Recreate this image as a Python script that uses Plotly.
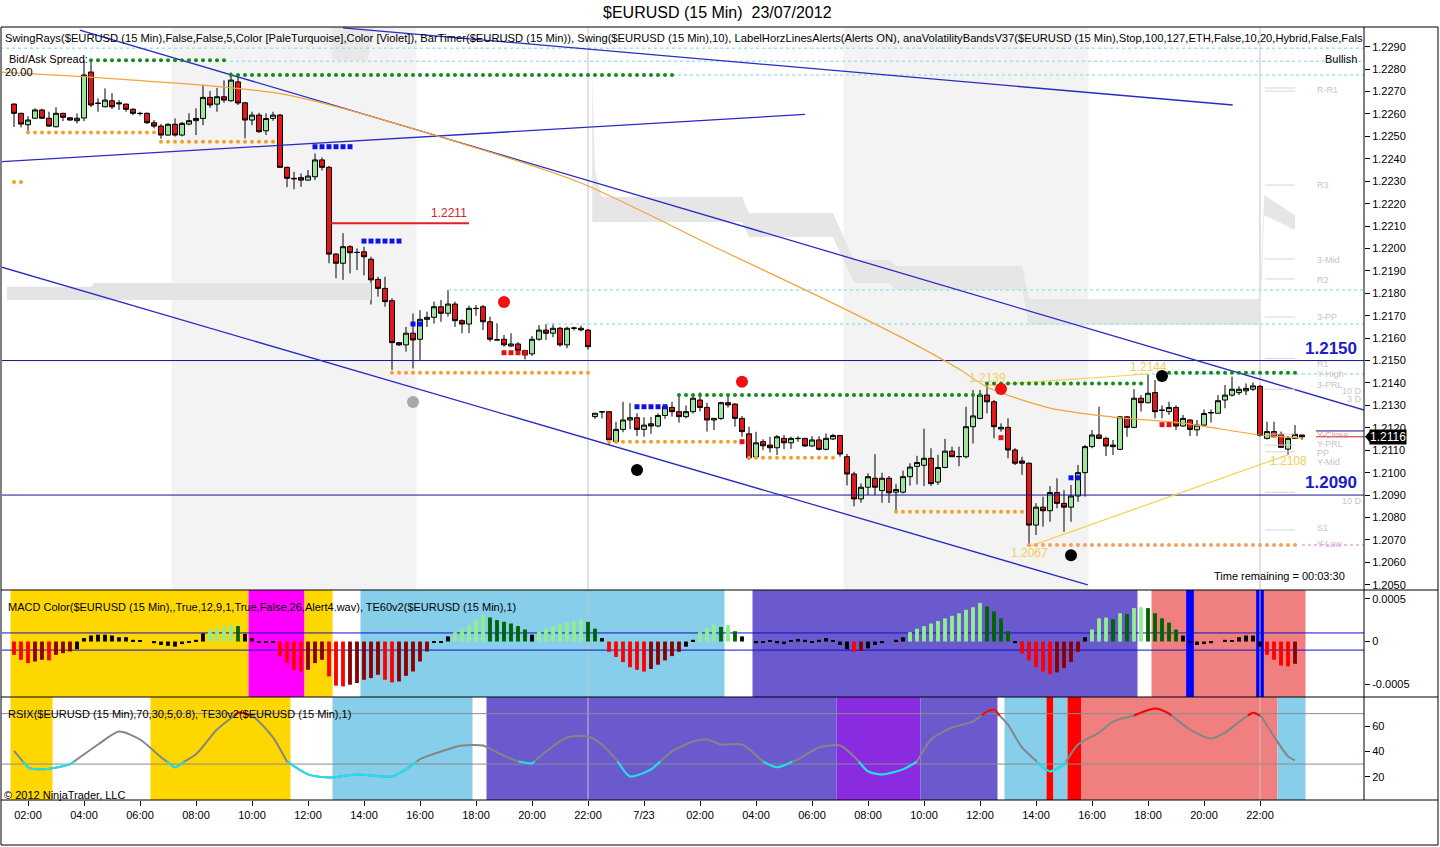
import plotly.graph_objects as go

# ============================ DATA ============================
tick_bars = [2, 10, 18, 26, 34, 42, 50, 58, 66, 74, 82, 90, 98, 106, 114, 122, 130, 138, 146, 154, 162, 170, 178]
tick_labels = ["02:00", "04:00", "06:00", "08:00", "10:00", "12:00", "14:00", "16:00", "18:00", "20:00", "22:00",
               "7/23", "02:00", "04:00", "06:00", "08:00", "10:00", "12:00", "14:00", "16:00", "18:00", "20:00", "22:00"]

open_ = [1.22644, 1.22603, 1.22552, 1.22581, 1.22618, 1.22581, 1.22543, 1.22603, 1.22583, 1.22570,
         1.22582, 1.22787, 1.22647, 1.22632, 1.22659, 1.22645, 1.22644, 1.22621, 1.22603, 1.22603,
         1.22561, 1.22546, 1.22506, 1.22554, 1.22506, 1.22555, 1.22570, 1.22580, 1.22674, 1.22644,
         1.22677, 1.22659, 1.22743, 1.22650, 1.22573, 1.22595, 1.22525, 1.22580, 1.22595, 1.22362,
         1.22313, 1.22316, 1.22305, 1.22320, 1.22395, 1.22362, 1.21975, 1.21934, 1.22008, 1.21983,
         1.21985, 1.21952, 1.21862, 1.21822, 1.21767, 1.21580, 1.21570, 1.21622, 1.21595, 1.21684,
         1.21693, 1.21740, 1.21711, 1.21752, 1.21678, 1.21663, 1.21733, 1.21740, 1.21673, 1.21593,
         1.21595, 1.21565, 1.21574, 1.21545, 1.21530, 1.21595, 1.21636, 1.21622, 1.21644, 1.21570,
         1.21644, 1.21644, 1.21636, 1.21250, 1.21272, 1.21272, 1.21138, 1.21193, 1.21235, 1.21245,
         1.21193, 1.21218, 1.21208, 1.21255, 1.21291, 1.21272, 1.21250, 1.21272, 1.21324, 1.21291,
         1.21235, 1.21242, 1.21312, 1.21306, 1.21242, 1.21173, 1.21070, 1.21138, 1.21123, 1.21111,
         1.21153, 1.21133, 1.21153, 1.21153, 1.21119, 1.21146, 1.21104, 1.21150, 1.21166, 1.21071,
         1.20994, 1.20883, 1.20935, 1.20975, 1.20920, 1.20975, 1.20913, 1.20913, 1.20982, 1.21028,
         1.21033, 1.21064, 1.20958, 1.21023, 1.21096, 1.21071, 1.21071, 1.21205, 1.21242, 1.21346,
         1.21316, 1.21195, 1.21202, 1.21101, 1.21052, 1.21042, 1.20766, 1.20846, 1.20830, 1.20911,
         1.20863, 1.20846, 1.20896, 1.21000, 1.21116, 1.21168, 1.21153, 1.21123, 1.21104, 1.21249,
         1.21202, 1.21332, 1.21312, 1.21357, 1.21279, 1.21272, 1.21291, 1.21208, 1.21235, 1.21191,
         1.21212, 1.21268, 1.21265, 1.21324, 1.21346, 1.21357, 1.21365, 1.21372, 1.21385, 1.21153,
         1.21183, 1.21171, 1.21105, 1.21153, 1.21168]
high_ = [1.22648, 1.22605, 1.22590, 1.22625, 1.22623, 1.22610, 1.22630, 1.22605, 1.22585, 1.22603,
         1.22840, 1.22835, 1.22670, 1.22714, 1.22693, 1.22662, 1.22646, 1.22626, 1.22610, 1.22607,
         1.22573, 1.22555, 1.22558, 1.22580, 1.22565, 1.22603, 1.22625, 1.22730, 1.22703, 1.22716,
         1.22750, 1.22785, 1.22770, 1.22652, 1.22610, 1.22605, 1.22603, 1.22610, 1.22600, 1.22365,
         1.22342, 1.22335, 1.22350, 1.22424, 1.22406, 1.22368, 1.21979, 1.22068, 1.22015, 1.22000,
         1.22008, 1.21963, 1.21874, 1.21874, 1.21778, 1.21582, 1.21650, 1.21710, 1.21725, 1.21718,
         1.21763, 1.21770, 1.21815, 1.21763, 1.21684, 1.21745, 1.21748, 1.21748, 1.21696, 1.21666,
         1.21614, 1.21622, 1.21582, 1.21548, 1.21610, 1.21658, 1.21663, 1.21666, 1.21651, 1.21651,
         1.21651, 1.21656, 1.21641, 1.21265, 1.21275, 1.21275, 1.21227, 1.21316, 1.21310, 1.21265,
         1.21247, 1.21249, 1.21265, 1.21304, 1.21316, 1.21346, 1.21300, 1.21346, 1.21358, 1.21312,
         1.21244, 1.21316, 1.21346, 1.21309, 1.21253, 1.21205, 1.21182, 1.21149, 1.21160, 1.21168,
         1.21168, 1.21160, 1.21163, 1.21155, 1.21163, 1.21163, 1.21175, 1.21173, 1.21168, 1.21083,
         1.21004, 1.20952, 1.20997, 1.21083, 1.21000, 1.20985, 1.20950, 1.21009, 1.21042, 1.21075,
         1.21196, 1.21109, 1.21080, 1.21151, 1.21116, 1.21116, 1.21294, 1.21369, 1.21369, 1.21390,
         1.21324, 1.21220, 1.21242, 1.21109, 1.21071, 1.21045, 1.20864, 1.20893, 1.20940, 1.20975,
         1.20922, 1.20945, 1.21034, 1.21123, 1.21190, 1.21294, 1.21160, 1.21146, 1.21252, 1.21252,
         1.21372, 1.21346, 1.21440, 1.21413, 1.21300, 1.21316, 1.21300, 1.21257, 1.21238, 1.21235,
         1.21282, 1.21282, 1.21346, 1.21391, 1.21428, 1.21385, 1.21398, 1.21403, 1.21391, 1.21227,
         1.21227, 1.21183, 1.21164, 1.21212, 1.21168]
low_ = [1.22542, 1.22540, 1.22520, 1.22580, 1.22578, 1.22543, 1.22540, 1.22568, 1.22570, 1.22558,
        1.22568, 1.22631, 1.22610, 1.22630, 1.22622, 1.22618, 1.22610, 1.22595, 1.22593, 1.22555,
        1.22536, 1.22490, 1.22502, 1.22499, 1.22500, 1.22550, 1.22506, 1.22550, 1.22627, 1.22610,
        1.22650, 1.22655, 1.22640, 1.22491, 1.22550, 1.22516, 1.22506, 1.22570, 1.22360, 1.22273,
        1.22264, 1.22275, 1.22303, 1.22305, 1.22348, 1.21934, 1.21867, 1.21860, 1.21889, 1.21904,
        1.21880, 1.21750, 1.21785, 1.21740, 1.21458, 1.21565, 1.21540, 1.21465, 1.21503, 1.21650,
        1.21665, 1.21673, 1.21696, 1.21650, 1.21622, 1.21622, 1.21700, 1.21636, 1.21584, 1.21590,
        1.21562, 1.21560, 1.21530, 1.21505, 1.21520, 1.21589, 1.21592, 1.21604, 1.21562, 1.21555,
        1.21634, 1.21630, 1.21549, 1.21240, 1.21242, 1.21124, 1.21130, 1.21180, 1.21193, 1.21163,
        1.21160, 1.21173, 1.21202, 1.21240, 1.21250, 1.21223, 1.21242, 1.21264, 1.21273, 1.21183,
        1.21190, 1.21235, 1.21290, 1.21205, 1.21160, 1.21056, 1.21066, 1.21100, 1.21090, 1.21079,
        1.21105, 1.21106, 1.21138, 1.21115, 1.21115, 1.21099, 1.21100, 1.21145, 1.21071, 1.20943,
        1.20850, 1.20866, 1.20900, 1.20900, 1.20866, 1.20865, 1.20825, 1.20907, 1.20942, 1.20947,
        1.20940, 1.20940, 1.20945, 1.21020, 1.21070, 1.21029, 1.21064, 1.21130, 1.21238, 1.21265,
        1.21153, 1.21183, 1.21064, 1.21034, 1.20990, 1.20670, 1.20722, 1.20759, 1.20781, 1.20841,
        1.20736, 1.20781, 1.20870, 1.20893, 1.21109, 1.21150, 1.21074, 1.21079, 1.21100, 1.21160,
        1.21198, 1.21272, 1.21309, 1.21242, 1.21242, 1.21257, 1.21190, 1.21205, 1.21163, 1.21163,
        1.21205, 1.21223, 1.21265, 1.21287, 1.21339, 1.21346, 1.21346, 1.21364, 1.21160, 1.21148,
        1.21157, 1.21111, 1.21080, 1.21150, 1.21146]
close_ = [1.22603, 1.22555, 1.22573, 1.22618, 1.22581, 1.22546, 1.22603, 1.22585, 1.22573, 1.22581,
          1.22774, 1.22640, 1.22648, 1.22662, 1.22632, 1.22649, 1.22621, 1.22603, 1.22602, 1.22561,
          1.22546, 1.22506, 1.22554, 1.22506, 1.22558, 1.22570, 1.22580, 1.22674, 1.22640, 1.22677,
          1.22662, 1.22751, 1.22649, 1.22573, 1.22595, 1.22521, 1.22580, 1.22595, 1.22362, 1.22313,
          1.22311, 1.22305, 1.22323, 1.22395, 1.22362, 1.21975, 1.21934, 1.22008, 1.21981, 1.21982,
          1.21963, 1.21860, 1.21822, 1.21763, 1.21580, 1.21570, 1.21622, 1.21592, 1.21684, 1.21693,
          1.21740, 1.21711, 1.21752, 1.21678, 1.21663, 1.21733, 1.21732, 1.21673, 1.21595, 1.21592,
          1.21570, 1.21574, 1.21545, 1.21525, 1.21595, 1.21636, 1.21622, 1.21644, 1.21570, 1.21644,
          1.21645, 1.21637, 1.21562, 1.21265, 1.21271, 1.21146, 1.21193, 1.21235, 1.21245, 1.21193,
          1.21212, 1.21208, 1.21255, 1.21294, 1.21272, 1.21250, 1.21272, 1.21332, 1.21291, 1.21235,
          1.21242, 1.21312, 1.21302, 1.21242, 1.21183, 1.21066, 1.21133, 1.21120, 1.21111, 1.21160,
          1.21133, 1.21153, 1.21152, 1.21119, 1.21146, 1.21104, 1.21153, 1.21166, 1.21083, 1.20994,
          1.20883, 1.20935, 1.20982, 1.20935, 1.20975, 1.20910, 1.20925, 1.20982, 1.21025, 1.21045,
          1.21064, 1.20951, 1.21023, 1.21096, 1.21071, 1.21072, 1.21205, 1.21253, 1.21346, 1.21316,
          1.21205, 1.21202, 1.21101, 1.21042, 1.21042, 1.20766, 1.20846, 1.20830, 1.20911, 1.20863,
          1.20846, 1.20896, 1.21000, 1.21116, 1.21168, 1.21153, 1.21119, 1.21116, 1.21249, 1.21202,
          1.21332, 1.21312, 1.21354, 1.21272, 1.21278, 1.21291, 1.21208, 1.21242, 1.21193, 1.21212,
          1.21264, 1.21267, 1.21321, 1.21346, 1.21372, 1.21372, 1.21376, 1.21387, 1.21166, 1.21183,
          1.21160, 1.21113, 1.21153, 1.21171, 1.21160]
bars = list(range(len(close_)))

macd_hist = [-0.000155, -0.000213, -0.000252, -0.000233, -0.000213, -0.000220, -0.000155, -0.000136, -0.000116, -0.000089,
             0.00004, 0.00007, 0.00008, 0.00008, 0.00007, 0.00005, 0.00005, 0.00002, 0.00001, 0.0,
             -0.00002, -0.00004, -0.00005, -0.00006, -0.00003, -0.00001, 0.00002, 0.000095, 0.000136, 0.000155,
             0.000174, 0.000194, 0.00018, 0.00009, 0.00004, -0.00001, -0.00001, -0.00001, -0.000174, -0.000252,
             -0.00033, -0.000349, -0.00033, -0.000252, -0.000213, -0.000407, -0.000515, -0.000523, -0.000504, -0.000484,
             -0.000446, -0.000426, -0.000388, -0.000446, -0.000477, -0.000465, -0.0004, -0.000349, -0.000233, -0.000116,
             -0.00001, -0.00001, 0.00006, 0.00011, 0.00015, 0.00019, 0.00026, 0.00031, 0.00028, 0.00025,
             0.00023, 0.00021, 0.00018, 0.00014, 0.00008, 0.00012, 0.00015, 0.00018, 0.0002, 0.00022,
             0.00024, 0.00026, 0.00023, 0.00015, 0.00004, -0.00012, -0.00018, -0.00024, -0.0003, -0.00033,
             -0.00035, -0.00032, -0.00027, -0.00022, -0.00017, -0.00012, -0.00006, 0.00002, 0.00011, 0.00016,
             0.0002, 0.00017, 0.00019, 0.00012, 0.00006, 0.0, -0.00002, -0.00001, 0.00001, -0.00002,
             -0.00003, 0.00001, 0.00003, 0.00002, -0.00001, 0.00002, 0.00004, 0.00001, -0.00004, -0.00009,
             -0.00012, -0.00011, -0.00008, -0.00004, -0.00002, 0.0, 0.00002, 0.00005, 0.00011, 0.00015,
             0.00018, 0.00021, 0.00024, 0.00027, 0.0003, 0.00033, 0.00037, 0.0004, 0.00045, 0.00041,
             0.00035, 0.00027, 0.00012, -0.00002, -0.00014, -0.00022, -0.0003, -0.00035, -0.00038, -0.00036,
             -0.00031, -0.00024, -0.00012, 0.00005, 0.00014, 0.00027, 0.00028, 0.00026, 0.00033, 0.00032,
             0.00039, 0.0004, 0.00039, 0.00033, 0.00027, 0.00022, 0.00014, 0.00007, -0.00001, -0.00004,
             -0.00003, -0.00002, 0.0, 0.00002, 0.00001, 0.00005, 0.00007, 0.00007, -0.00006, -0.000155,
             -0.000213, -0.00028, -0.00029, -0.00026, None]

rsi_bars = [0, 2, 4, 8, 12, 15, 18, 21, 23, 26, 29, 32, 34, 37, 39, 42, 45, 49, 54, 56,
            58, 61, 64, 67, 69, 72, 74, 76, 79, 82, 84, 86, 88, 91, 94, 97, 99, 101, 104, 107,
            109, 112, 115, 118, 120, 122, 124, 127, 129, 131, 134, 137, 139, 140, 142, 144, 147, 148, 150, 152,
            155, 157, 160, 163, 165, 168, 171, 173, 176, 177, 178, 180, 182, 183]
rsi_vals = [40.5, 27.4, 25.8, 29.7, 45.5, 55.8, 49.5, 35.4, 27.4, 37.8, 57.4, 70.8, 68.5, 51.1, 32.1, 21.8, 19.4, 21.8, 20.2, 25.8,
            33.9, 40.0, 44.7, 44.7, 39.2, 32.1, 30.5, 40.0, 51.1, 51.9, 45.5, 33.7, 20.2, 25.8, 40.0, 47.9, 49.5, 45.5, 45.5, 32.1,
            27.4, 33.7, 43.2, 44.7, 36.1, 24.2, 21.8, 25.8, 32.1, 49.5, 59.0, 63.7, 71.6, 73.2, 61.3, 43.2, 27.4, 24.2, 29.7, 45.5,
            55.0, 63.7, 68.5, 74.0, 70.0, 57.4, 50.3, 55.0, 67.7, 70.8, 68.5, 51.9, 36.1, 33.0]

ma_bars = [-2, 17, 39, 67, 81, 101, 114, 127, 135, 139, 148, 157, 167, 178, 184]
ma_vals = [1.22787, 1.22751, 1.22685, 1.22439, 1.22292, 1.21993, 1.21801, 1.21600, 1.21462, 1.21382,
           1.21288, 1.21248, 1.21221, 1.21168, 1.21154]

# volatility bands (upper / lower envelopes)
vb_day1_bars = [-1, 11, 11.5, 51]
vb_day1_up = [1.21829, 1.21829, 1.21846, 1.21846]
vb_day1_lo = [1.21770, 1.21770, 1.21770, 1.21770]
vb_top_bars = [45.5, 50.5, 51.5]
vb_top_up = [1.22990, 1.22990, 1.22990]
vb_top_lo = [1.22840, 1.22840, 1.22985]
vb_day2_bars = [82.6, 83, 84, 104, 105, 117, 120, 125, 126, 144, 145, 178, 178.6, 183]
vb_day2_up = [1.22781, 1.22341, 1.22230, 1.22230, 1.22158, 1.22158, 1.21949, 1.21949, 1.21922, 1.21922,
              1.21775, 1.21775, 1.22238, 1.22149]
vb_day2_lo = [1.22118, 1.22118, 1.22118, 1.22118, 1.22051, 1.22051, 1.21846, 1.21846, 1.21815, 1.21815,
              1.21659, 1.21659, 1.22149, 1.22082]

# drawn trend lines (bar, price) end points
trend_channel_top_bars, trend_channel_top_prices = [9.4, 192.9], [1.22974, 1.21279]
trend_channel_bot_bars, trend_channel_bot_prices = [-2, 153.4], [1.21919, 1.20499]
trend_long_bars, trend_long_prices = [47, 174.1], [1.22984, 1.22640]
trend_rising_bars, trend_rising_prices = [-2, 113], [1.22387, 1.22598]
alert_levels = [1.2150, 1.2090]
alert_labels = ["1.2150", "1.2090"]

# swing connectors (yellow)
swing_hi_bars, swing_hi_prices = [139, 162], [1.21390, 1.21440]
swing_lo_bars, swing_lo_prices = [145, 182], [1.20670, 1.21080]
swing_texts = [(139, 1.21422, "1.2139"), (162, 1.21471, "1.2144"), (145, 1.20642, "1.2067"), (182, 1.21052, "1.2108")]

# swing dots: (first bar, last bar, price)
swing_green = [(11, 30, 1.22840), (31, 94, 1.22774), (95, 138, 1.21346), (139, 161, 1.21398), (164, 183, 1.21446)]
swing_orange = [(0, 1, 1.22296), (2, 20, 1.22517), (21, 37, 1.22476), (54, 82, 1.21446), (85, 103, 1.21138),
                (105, 117, 1.21067), (126, 144, 1.20826)]
swing_orange_last = [(145, 183, 1.20677)]
blue_squares = [(43, 48, 1.22454), (50, 55, 1.22033), (57, 58, 1.21663), (89, 93, 1.21294), (151, 152, 1.20977)]
red_squares = [(70, 73, 1.21535), (104, 104, 1.21138), (141, 141, 1.21156), (164, 165, 1.21214)]
big_red = [(70, 1.21761), (104, 1.21406), (141, 1.21373)]
big_black = [(89, 1.21012), (151, 1.20632), (164, 1.21431)]
big_gray = [(57, 1.21315)]
swing_rays = [(-2, 1.22893), (30, 1.22835), (94, 1.22774), (62, 1.21815), (76, 1.21663), (160, 1.21440)]
ylow_ray = (184, 1.20677)
stop_line_bars, stop_line_price, stop_text = [45, 65], 1.22112, "1.2211"

pivot_lines = [1.22716, 1.22702, 1.22283, 1.21953, 1.21864, 1.21694, 1.21510, 1.21372, 1.21172, 1.21123,
               1.21093, 1.20912, 1.20744]
pivot_left_labels = [("R-R1", 1.22707), ("R3", 1.22281), ("3-Mid", 1.21949), ("R2", 1.21859), ("3-PP", 1.21694),
                     ("R1", 1.21484), ("Y-High", 1.21438), ("3-PRL", 1.21392), ("Y-PRL", 1.21128), ("PP", 1.21088),
                     ("Y-Mid", 1.21048), ("S1", 1.20753)]
pivot_right_labels = [("10 D", 1.21366), ("3 D", 1.21328), ("10 D", 1.20874)]
yclose_label = ("Y-Close", 1.21168)
ylow_label = ("Y-Low", 1.20682)
prev_level = 1.21186

session_bands = [(22.5, 57.5), (118.5, 153.5)]
te60_states = [(-0.5, 33.5, "gold"), (33.5, 41.5, "magenta"), (41.5, 45.5, "gold"), (49.5, 101.5, "skyblue"),
               (105.5, 160.5, "slateblue"), (162.5, 184.5, "lightcoral")]
macd_alert_bars = [168, 178]
te30_states = [(-0.5, 5.5, "gold"), (19.5, 39.5, "gold"), (45.5, 65.5, "skyblue"), (67.5, 117.5, "slateblue"),
               (117.5, 129.5, "blueviolet"), (129.5, 140.5, "slateblue"), (141.5, 147.5, "skyblue"),
               (147.5, 148.5, "red"), (148.5, 150.5, "skyblue"), (150.5, 152.5, "red"),
               (152.5, 180.5, "lightcoral"), (180.5, 184.5, "skyblue")]
session_breaks = [82, 178]

# ============================ LAYOUT HELPERS ============================
W, H = 1440, 847
ML, MR, MT, MB = 2, 76, 27, 47
PW, PH = W - ML - MR, H - MT - MB


def px(x):
    return (x - ML) / PW


def py(y):
    return (H - MB - y) / PH


FONT = "Liberation Sans, Arial, sans-serif"
X_RANGE = [-1.714, 192.857]
Y_MAIN = [1.204765, 1.22988]
Y_MACD = [-0.000647, 0.000601]
Y_RSI = [1.5, 83.2]

fig = go.Figure()


def band(xs, up, lo, color):
    fig.add_trace(go.Scatter(x=xs, y=up, mode="lines", line=dict(width=0), hoverinfo="skip", yaxis="y"))
    fig.add_trace(go.Scatter(x=xs, y=lo, mode="lines", line=dict(width=0), fill="tonexty",
                             fillcolor=color, hoverinfo="skip", yaxis="y"))


band(vb_day1_bars, vb_day1_up, vb_day1_lo, "#e4e4e4")
band(vb_top_bars, vb_top_up, vb_top_lo, "#e8e8e8")
band(vb_day2_bars, vb_day2_up, vb_day2_lo, "#e6e6e6")

# swing rays (pale turquoise dotted)
for b0, p in swing_rays:
    fig.add_trace(go.Scatter(x=[b0, X_RANGE[1]], y=[p, p], mode="lines",
                             line=dict(color="#9fe6ea", width=1.6, dash="dot"), hoverinfo="skip"))
fig.add_trace(go.Scatter(x=[ylow_ray[0], X_RANGE[1]], y=[ylow_ray[1]] * 2, mode="lines",
                         line=dict(color="#e2a6e2", width=1.6, dash="dot"), hoverinfo="skip"))

# horizontal alert lines
for lv in alert_levels:
    fig.add_trace(go.Scatter(x=X_RANGE, y=[lv, lv], mode="lines", line=dict(color="#14148c", width=1), hoverinfo="skip"))

# trend lines
for xs, ys in [(trend_channel_top_bars, trend_channel_top_prices), (trend_channel_bot_bars, trend_channel_bot_prices),
               (trend_long_bars, trend_long_prices), (trend_rising_bars, trend_rising_prices)]:
    fig.add_trace(go.Scatter(x=xs, y=ys, mode="lines", line=dict(color="#2a2ac4", width=1.3), hoverinfo="skip"))

# moving average
fig.add_trace(go.Scatter(x=ma_bars, y=ma_vals, mode="lines", line=dict(color="#f2a43a", width=1.2, shape="spline", smoothing=0.8),
                         hoverinfo="skip"))

# pivot short lines
for p in pivot_lines:
    fig.add_trace(go.Scatter(x=[178.7, 183], y=[p, p], mode="lines", line=dict(color="#d4d4d4", width=1), hoverinfo="skip"))
fig.add_trace(go.Scatter(x=[186, X_RANGE[1]], y=[prev_level] * 2, mode="lines", line=dict(color="#14148c", width=1), hoverinfo="skip"))
fig.add_trace(go.Scatter(x=[186, X_RANGE[1]], y=[close_[-1]] * 2, mode="lines", line=dict(color="#d02020", width=1), hoverinfo="skip"))

# yellow swing connectors
for xs, ys in [(swing_hi_bars, swing_hi_prices), (swing_lo_bars, swing_lo_prices)]:
    fig.add_trace(go.Scatter(x=xs, y=ys, mode="lines", line=dict(color="#f6d24a", width=1.2), hoverinfo="skip"))


def dots(rows, color, symbol="circle", size=4):
    xs, ys = [], []
    for a, b, p in rows:
        for i in range(a, b + 1):
            xs.append(i)
            ys.append(p)
    fig.add_trace(go.Scatter(x=xs, y=ys, mode="markers", marker=dict(color=color, size=size, symbol=symbol),
                             hoverinfo="skip"))


dots(swing_green, "#138a1e")
dots(swing_orange, "#f2a125")
dots(swing_orange_last, "#f4a060")

# candles
fig.add_trace(go.Candlestick(x=bars, open=open_, high=high_, low=low_, close=close_,
                             increasing=dict(fillcolor="#9ee49e", line=dict(color="#000000", width=1)),
                             decreasing=dict(fillcolor="#e01818", line=dict(color="#000000", width=1)),
                             whiskerwidth=0, hoverinfo="skip", yaxis="y"))

dots(blue_squares, "#1212e6", "square", 5)
dots(red_squares, "#e01212", "square", 5)
for pts, col in [(big_red, "#f01010"), (big_black, "#000000"), (big_gray, "#a8a8a8")]:
    fig.add_trace(go.Scatter(x=[p[0] for p in pts], y=[p[1] for p in pts], mode="markers",
                             marker=dict(color=col, size=12), hoverinfo="skip"))

# stop line
fig.add_trace(go.Scatter(x=stop_line_bars, y=[stop_line_price] * 2, mode="lines", line=dict(color="#e02020", width=2),
                         hoverinfo="skip"))

# ---------------- MACD histogram ----------------
mcolors = []
prev = None
for v in macd_hist:
    if v is None:
        mcolors.append("rgba(0,0,0,0)")
        continue
    if abs(v) < 0.0001:
        c = "#000000"
    elif v > 0:
        c = "#90ee90" if (prev is None or v >= prev) else "#006400"
    else:
        c = "#ff0000" if (prev is None or v <= prev) else "#8b0000"
    mcolors.append(c)
    prev = v
fig.add_trace(go.Bar(x=bars, y=macd_hist, marker=dict(color=mcolors, line=dict(width=0)), width=0.55,
                     yaxis="y2", hoverinfo="skip"))

# ---------------- RSI ----------------
LO, HI = 32, 68.5
pts = [(rsi_bars[0], rsi_vals[0])]
for i in range(1, len(rsi_bars)):
    x0, v0, x1, v1 = rsi_bars[i - 1], rsi_vals[i - 1], rsi_bars[i], rsi_vals[i]
    cross = []
    for t in (LO, HI):
        if (v0 - t) * (v1 - t) < 0:
            cross.append((x0 + (t - v0) * (x1 - x0) / (v1 - v0), t))
    cross.sort()
    pts.extend(cross)
    pts.append((x1, v1))
fig.add_trace(go.Scatter(x=[p[0] for p in pts], y=[p[1] for p in pts], mode="lines",
                         line=dict(color="#858585", width=2, shape="spline", smoothing=0.7), yaxis="y3", hoverinfo="skip"))
for cls, col in [("lo", "#19e3f0"), ("hi", "#ff0000")]:
    run = []
    runs = []
    for p in pts:
        inside = p[1] <= LO + 1e-9 if cls == "lo" else p[1] >= HI - 1e-9
        if inside:
            run.append(p)
        else:
            if len(run) > 1:
                runs.append(run)
            run = []
    if len(run) > 1:
        runs.append(run)
    for r in runs:
        fig.add_trace(go.Scatter(x=[p[0] for p in r], y=[p[1] for p in r], mode="lines",
                                 line=dict(color=col, width=2, shape="spline", smoothing=0.7), yaxis="y3", hoverinfo="skip"))

# ============================ SHAPES ============================
shapes = []
for a, b in session_bands:
    shapes.append(dict(type="rect", xref="x", yref="y domain", x0=a, x1=b, y0=0, y1=1,
                       fillcolor="#f3f3f3", line=dict(width=0), layer="below"))
for a, b, c in te60_states:
    shapes.append(dict(type="rect", xref="x", yref="y2 domain", x0=a, x1=b, y0=0, y1=1,
                       fillcolor=c, line=dict(width=0), layer="below"))
for b in macd_alert_bars:
    shapes.append(dict(type="rect", xref="x", yref="y2 domain", x0=b - 0.55, x1=b + 0.55, y0=0, y1=1,
                       fillcolor="#0000ff", line=dict(width=0), layer="below"))
for a, b, c in te30_states:
    shapes.append(dict(type="rect", xref="x", yref="y3 domain", x0=a, x1=b, y0=0, y1=1,
                       fillcolor=c, line=dict(width=0), layer="below"))
for b in session_breaks:
    shapes.append(dict(type="line", xref="x", yref="paper", x0=b, x1=b, y0=0, y1=1,
                       line=dict(color="#c4c4c4", width=1), layer="below"))
for lv in (0.0001, -0.0001):
    shapes.append(dict(type="line", xref="paper", yref="y2", x0=0, x1=1, y0=lv, y1=lv,
                       line=dict(color="#1010c8", width=1), layer="below"))
for lv in (70, 30):
    shapes.append(dict(type="line", xref="paper", yref="y3", x0=0, x1=1, y0=lv, y1=lv,
                       line=dict(color="#8c8c8c", width=1), layer="below"))
# frames
shapes.append(dict(type="rect", xref="paper", yref="paper", x0=px(1), x1=px(1438), y0=py(845), y1=py(27),
                   line=dict(color="#000000", width=1), layer="above"))
for yy in (590, 697, 800):
    shapes.append(dict(type="line", xref="paper", yref="paper", x0=px(1), x1=px(1438), y0=py(yy), y1=py(yy),
                       line=dict(color="#000000", width=1), layer="above"))
shapes.append(dict(type="line", xref="paper", yref="paper", x0=1, x1=1, y0=0, y1=1,
                   line=dict(color="#000000", width=1), layer="above"))
# last price pointer
last = close_[-1]
dp = 7 / 22417.0
shapes.append(dict(type="path", xref="paper", yref="y",
                   path=f"M {px(1365)},{last} L {px(1371)},{last + dp} L {px(1371)},{last - dp} Z",
                   fillcolor="#000000", line=dict(width=0), layer="above"))

# ============================ ANNOTATIONS ============================
ann = []


def txt(x, y, s, size=11, color="#000000", xa="left", ya="middle", xref="paper", yref="paper", bold=False, **kw):
    if bold:
        s = "<b>" + s + "</b>"
    ann.append(dict(x=x, y=y, xref=xref, yref=yref, text=s, showarrow=False, xanchor=xa, yanchor=ya,
                    font=dict(family=FONT, size=size, color=color), **kw))


txt(px(717), py(13), "$EURUSD (15 Min)  23/07/2012", size=16, xa="center")
txt(px(3), py(38), "SwingRays($EURUSD (15 Min),False,False,5,Color [PaleTurquoise],Color [Violet]), BarTimer($EURUSD (15 Min)), "
    "Swing($EURUSD (15 Min),10), LabelHorzLinesAlerts(Alerts ON), anaVolatilityBandsV37($EURUSD (15 Min),Stop,100,127,ETH,"
    "False,10,20,Hybrid,False,Fals", size=11.2)
txt(px(7), py(59), "Bid/Ask Spread:", size=11)
txt(px(3), py(72), "20.00", size=11)
txt(px(1359), py(59), "Bullish", size=11, xa="right")
txt(px(1347), py(576), "Time remaining = 00:03:30", size=11, xa="right")
txt(px(6), py(607), "MACD Color($EURUSD (15 Min),,True,12,9,1,True,False,26,Alert4.wav), TE60v2($EURUSD (15 Min),1)", size=11)
txt(px(6), py(714), "RSIX($EURUSD (15 Min),70,30,5,0.8), TE30v2($EURUSD (15 Min),1)", size=11)
txt(px(2), py(795), "© 2012 NinjaTrader, LLC", size=11)

txt(stop_line_bars[1], stop_line_price, stop_text, size=12, color="#e02020", xa="right", ya="bottom",
    xref="x", yref="y", yshift=1)
for lv, lab in zip(alert_levels, alert_labels):
    txt(192.1, lv, lab, size=17, color="#1c1cc8", xa="right", ya="bottom", xref="x", yref="y", bold=True, yshift=1)
for b, p, s in swing_texts:
    txt(b, p, s, size=12, color="#f2cc5c", xa="center", xref="x", yref="y")
for s, p in pivot_left_labels:
    txt(185.9, p, s, size=9, color="#c6c6c6", xref="x", yref="y")
for s, p in pivot_right_labels:
    txt(192.85, p, s, size=9, color="#c6c6c6", xa="right", xref="x", yref="y")
txt(185.9, yclose_label[1], yclose_label[0], size=9, color="#e89a9a", xref="x", yref="y")
txt(185.9, ylow_label[1], ylow_label[0], size=9, color="#e0a8d8", xref="x", yref="y")
ann.append(dict(x=px(1388), y=last, xref="paper", yref="y", text=f"{last:.4f}", showarrow=False,
                xanchor="center", yanchor="middle", bgcolor="#000000", borderpad=0,
                font=dict(family=FONT, size=12, color="#ffffff")))

# ============================ AXES ============================
axis_common = dict(showgrid=False, zeroline=False, showline=False, ticks="outside", ticklen=5, tickwidth=1,
                   tickcolor="#000000", tickfont=dict(family=FONT, size=11, color="#000000"))
main_ticks = [round(1.2050 + 0.001 * k, 4) for k in range(25)]

fig.update_layout(
    width=W, height=H, margin=dict(l=ML, r=MR, t=MT, b=MB),
    paper_bgcolor="#ffffff", plot_bgcolor="#ffffff", showlegend=False,
    font=dict(family=FONT, size=11, color="#000000"),
    boxgap=0.0, boxgroupgap=0.28,
    xaxis=dict(domain=[0, 1], range=X_RANGE, anchor="y3", tickvals=tick_bars, ticktext=tick_labels,
               rangeslider=dict(visible=False), **axis_common),
    yaxis=dict(domain=[py(590), 1], range=Y_MAIN, side="right", anchor="x", tickvals=main_ticks,
               ticktext=[f"{t:.4f}" for t in main_ticks], **axis_common),
    yaxis2=dict(domain=[py(697), py(590)], range=Y_MACD, side="right", anchor="x",
                tickvals=[-0.0005, 0, 0.0005], ticktext=["-0.0005", "0", "0.0005"], **axis_common),
    yaxis3=dict(domain=[0, py(697)], range=Y_RSI, side="right", anchor="x",
                tickvals=[20, 40, 60], ticktext=["20", "40", "60"], **axis_common),
    shapes=shapes, annotations=ann,
)

fig.write_html("out.html", config={"displayModeBar": False},
               post_script="document.body.style.margin='0px';")
